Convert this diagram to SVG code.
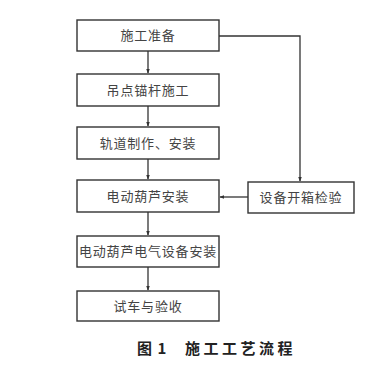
<svg xmlns="http://www.w3.org/2000/svg" width="388" height="381" viewBox="0 0 388 381">
<defs>
<style>
.box{fill:#fff;stroke:#333;stroke-width:1.4}
.t{font-family:"Noto Sans CJK SC","Noto Sans CJK JP",sans-serif;font-size:13px;fill:#444;text-anchor:middle;letter-spacing:0.8px}
.c{fill:none;stroke:#333;stroke-width:1.3}
.cap{font-family:"Noto Sans CJK SC",sans-serif;font-size:15px;font-weight:bold;fill:#222}
</style>
<marker id="ah" viewBox="0 0 8 8" refX="7" refY="4" markerWidth="5" markerHeight="5" orient="auto" markerUnits="userSpaceOnUse">
<path d="M0,1 L8,4 L0,7 Z" fill="#333"/>
</marker>
</defs>
<rect width="388" height="381" fill="#fff"/>
<g id="connectors">
<line class="c" x1="148" y1="51" x2="148" y2="73" marker-end="url(#ah)"/>
<line class="c" x1="148" y1="106" x2="148" y2="126" marker-end="url(#ah)"/>
<line class="c" x1="148" y1="159" x2="148" y2="179" marker-end="url(#ah)"/>
<line class="c" x1="148" y1="212" x2="148" y2="235" marker-end="url(#ah)"/>
<line class="c" x1="148" y1="267" x2="148" y2="290" marker-end="url(#ah)"/>
<polyline class="c" points="219,36 300,36 300,181" marker-end="url(#ah)"/>
<line class="c" x1="248" y1="197" x2="220" y2="197" marker-end="url(#ah)"/>
</g>
<g id="n1"><rect class="box" x="77" y="20" width="142" height="31"/><text class="t" x="148" y="40">施工准备</text></g>
<g id="n2"><rect class="box" x="77" y="74" width="142" height="32"/><text class="t" x="148" y="95">吊点锚杆施工</text></g>
<g id="n3"><rect class="box" x="77" y="127" width="142" height="32"/><text class="t" x="148" y="148">轨道制作、安装</text></g>
<g id="n4"><rect class="box" x="77" y="180" width="142" height="32"/><text class="t" x="148" y="201">电动葫芦安装</text></g>
<g id="n5"><rect class="box" x="77" y="236" width="142" height="31"/><text class="t" x="148" y="256">电动葫芦电气设备安装</text></g>
<g id="n6"><rect class="box" x="77" y="291" width="142" height="30"/><text class="t" x="148" y="311">试车与验收</text></g>
<g id="n7"><rect class="box" x="248" y="182" width="106" height="31"/><text class="t" x="301" y="202">设备开箱检验</text></g>
<text class="cap" x="137" y="354" letter-spacing="1">图 1</text>
<text class="cap" x="185" y="354" letter-spacing="3.5">施工工艺流程</text>
</svg>
